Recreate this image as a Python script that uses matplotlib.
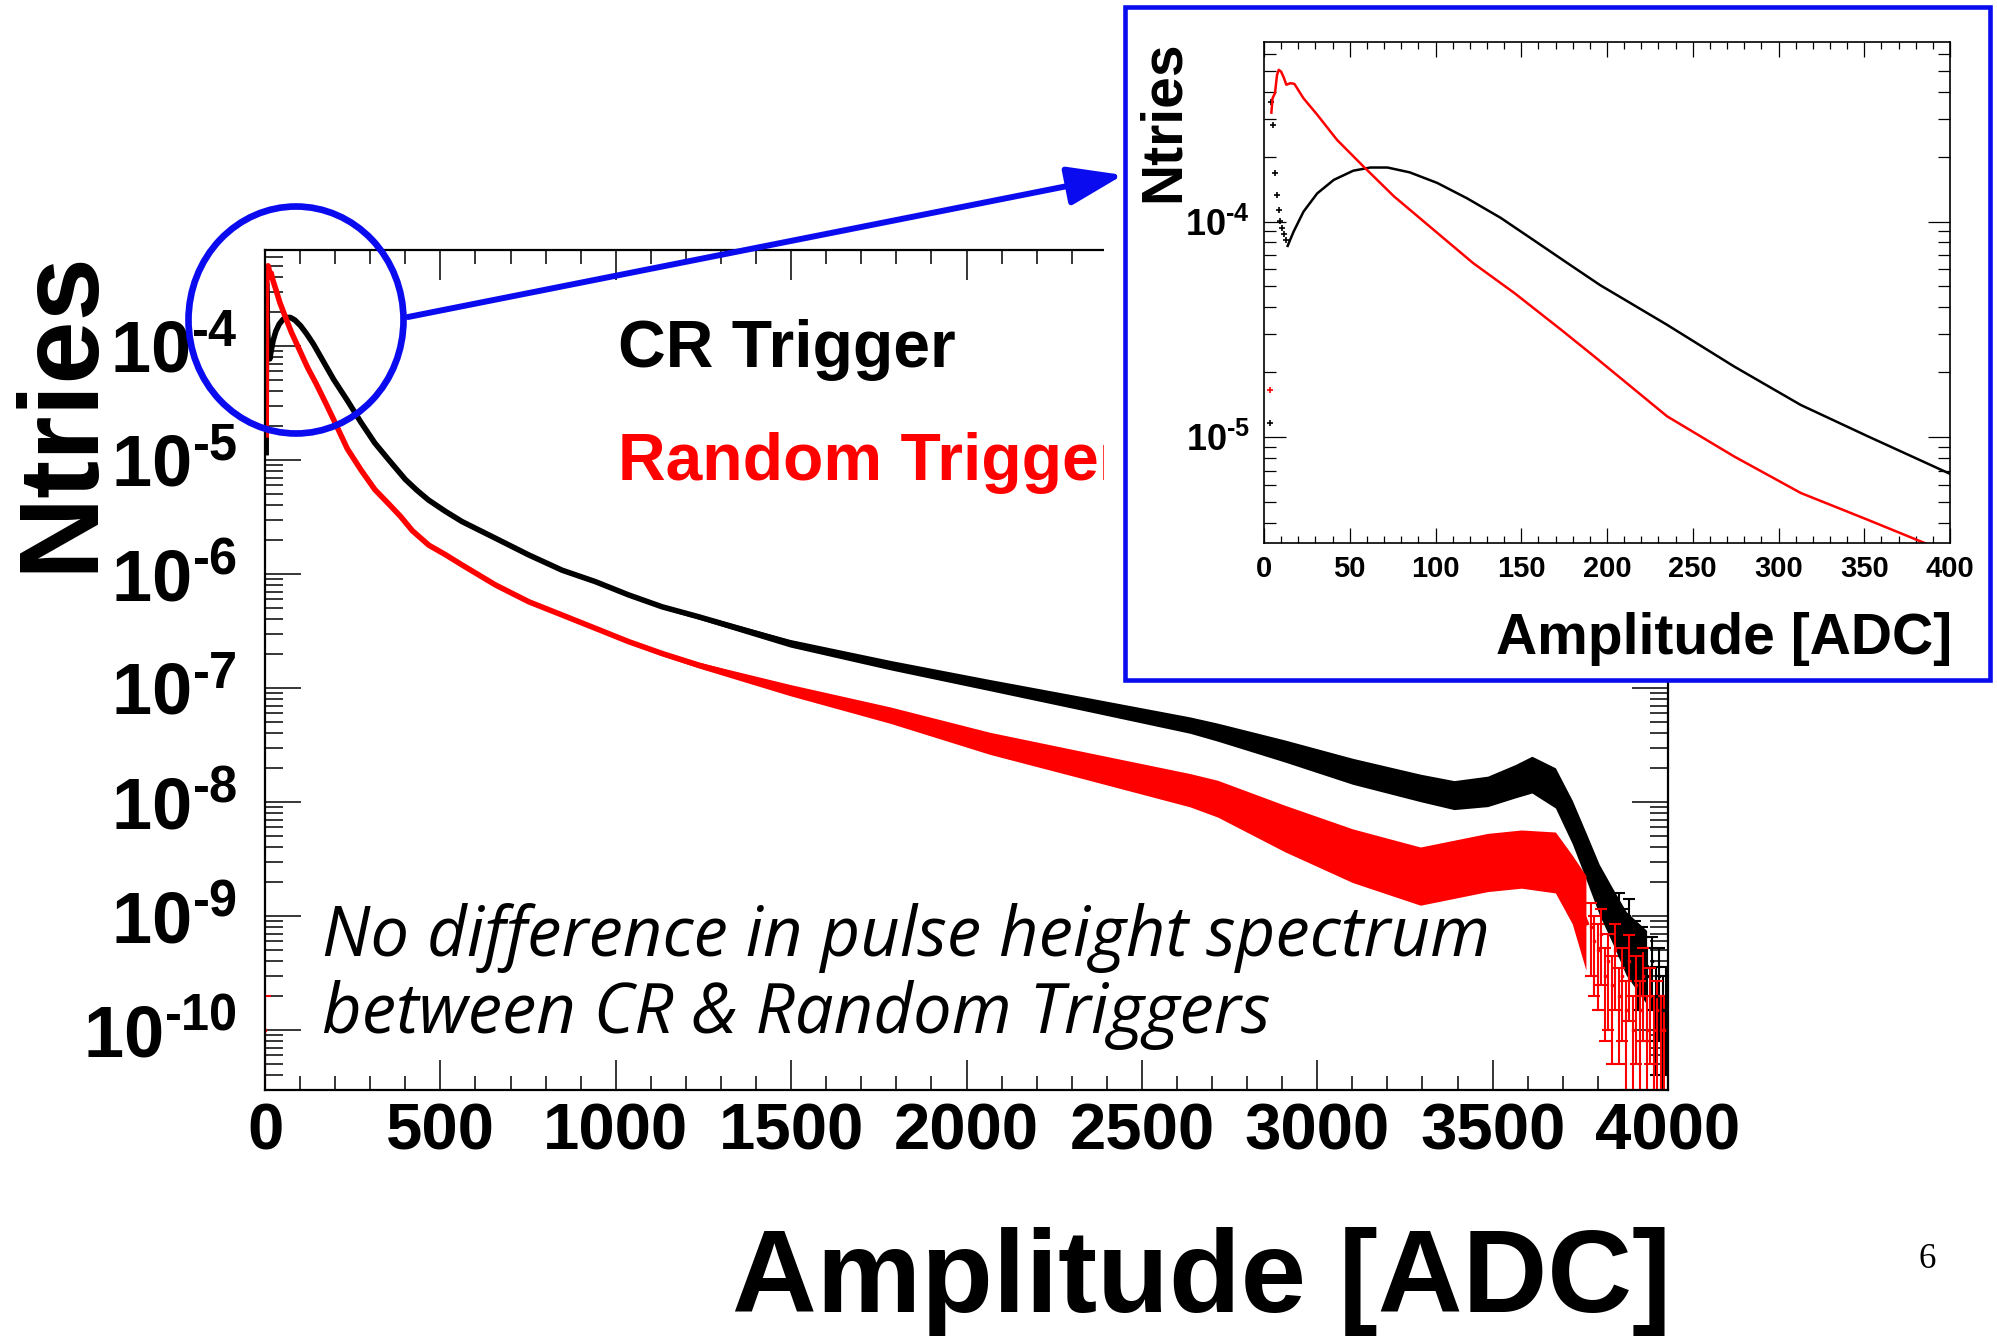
import numpy as np
import matplotlib
matplotlib.use("Agg")
import matplotlib.pyplot as plt
from matplotlib import patches
from matplotlib.ticker import LogLocator, NullFormatter, FuncFormatter, MultipleLocator

# ---------------- data ----------------
cr_x = [3.3, 4.3, 5.3, 6.6, 7.6, 8.6, 9.5, 10.7, 11.9, 12.6, 13.8, 15.4, 17.3, 23, 31,
        40.7, 52, 62, 72, 85, 101, 118.5, 138, 157, 177, 196, 207, 235, 274, 313, 352,
        400, 433, 466, 514, 562, 657, 752, 847, 942, 1037, 1132, 1236, 1497, 1782, 2067,
        2352, 2637, 2716, 2908, 3101, 3294, 3390, 3486, 3564, 3612, 3679, 3727, 3766,
        3804, 3843, 3881, 3939]
cr_y = [1.16e-5, 3.60e-4, 2.81e-4, 1.67e-4, 1.33e-4, 1.13e-4, 1.01e-4, 9.31e-5, 8.77e-5,
        8.17e-5, 7.71e-5, 8.28e-5, 8.99e-5, 1.11e-4, 1.35e-4, 1.56e-4, 1.72e-4, 1.78e-4,
        1.78e-4, 1.69e-4, 1.51e-4, 1.28e-4, 1.04e-4, 8.22e-5, 6.41e-5, 5.07e-5, 4.50e-5,
        3.32e-5, 2.13e-5, 1.41e-5, 1.01e-5, 6.76e-6, 5.43e-6, 4.46e-6, 3.55e-6, 2.88e-6,
        2.06e-6, 1.47e-6, 1.08e-6, 8.57e-7, 6.55e-7, 5.16e-7, 4.22e-7, 2.47e-7, 1.59e-7,
        1.06e-7, 7.10e-8, 4.73e-8, 4.10e-8, 2.80e-8, 1.86e-8, 1.33e-8, 1.15e-8, 1.24e-8,
        1.52e-8, 1.74e-8, 1.33e-8, 6.68e-9, 3.38e-9, 1.71e-9, 9.91e-10, 5.74e-10, 3.56e-10]
cr_spread = [1.0] * 40 + [1.03, 1.04, 1.05, 1.08, 1.10, 1.12, 1.15, 1.18, 1.20, 1.25,
                          1.30, 1.32, 1.34, 1.36, 1.40, 1.45, 1.50, 1.55, 1.60, 1.66,
                          1.75, 1.90, 2.10]

rnd_x = [3.3, 4.3, 5.0, 6.4, 7.6, 8.6, 10, 11.5, 13, 15.4, 17.7, 23, 31, 42.6, 58, 75.7,
         99, 122, 146, 173, 192.5, 235, 274, 313, 352, 386, 420, 467, 514, 562, 657, 752,
         847, 942, 1037, 1132, 1236, 1497, 1782, 2067, 2352, 2637, 2716, 2908, 3101, 3294,
         3390, 3486, 3582, 3679, 3727, 3766]
rnd_y = [1.66e-5, 3.20e-4, 3.73e-4, 3.94e-4, 4.79e-4, 5.05e-4, 4.95e-4, 4.66e-4, 4.31e-4,
         4.38e-4, 4.35e-4, 3.73e-4, 3.13e-4, 2.39e-4, 1.80e-4, 1.31e-4, 9.14e-5, 6.41e-5,
         4.66e-5, 3.16e-5, 2.37e-5, 1.25e-5, 8.15e-6, 5.51e-6, 4.14e-6, 3.21e-6, 2.40e-6,
         1.79e-6, 1.48e-6, 1.20e-6, 8.02e-7, 5.71e-7, 4.37e-7, 3.34e-7, 2.55e-7, 2.01e-7,
         1.59e-7, 9.59e-8, 5.79e-8, 3.27e-8, 2.04e-8, 1.27e-8, 1.07e-8, 5.85e-9, 3.38e-9,
         2.24e-9, 2.57e-9, 2.95e-9, 3.16e-9, 2.95e-9, 1.71e-9, 8.71e-10]
rnd_spread = [1.0] * 33 + [1.03, 1.04, 1.05, 1.06, 1.12, 1.18, 1.25, 1.32, 1.40, 1.45,
                           1.60, 1.72, 1.80, 1.80, 1.80, 1.80, 1.85, 2.0, 2.6]

cr_tail_x = [3860, 3875, 3890, 3905, 3915, 3925, 3940, 3955, 3965, 3975, 3985, 3995]
cr_tail_y = [1.2e-9, 8e-10, 1.0e-9, 6e-10, 4e-10, 5e-10, 3e-10, 4e-10, 2e-10, 3e-10,
             1.5e-10, 2e-10]
cr_tail_err = [4e-10, 3.5e-10, 4e-10, 3e-10, 2.5e-10, 3e-10, 2.2e-10, 2.5e-10, 1.6e-10,
               2.2e-10, 1.5e-10, 1.6e-10]

rnd_tail_x = [1, 3780, 3790, 3800, 3810, 3820, 3830, 3840, 3850, 3860, 3870, 3880, 3890,
              3900, 3910, 3920, 3930, 3940, 3950, 3960, 3970, 3980, 3990, 4000]
rnd_tail_y = [1e-10, 8e-10, 6e-10, 5e-10, 7e-10, 3e-10, 4e-10, 2.5e-10, 5e-10, 2e-10,
              3e-10, 1.5e-10, 4e-10, 1e-10, 2.5e-10, 1.5e-10, 3e-10, 1e-10, 2e-10, 1e-10,
              1.5e-10, 1e-10, 1e-10, 1e-10]
rnd_tail_err = [1e-10, 5e-10, 4e-10, 3.5e-10, 4.5e-10, 2.2e-10, 3e-10, 2e-10, 3.5e-10,
                1.5e-10, 2.2e-10, 1.2e-10, 2.8e-10, 1e-10, 2e-10, 1.2e-10, 2.2e-10, 1e-10,
                1.5e-10, 1e-10, 1.2e-10, 1e-10, 1e-10, 1e-10]

main_xticks = [0, 500, 1000, 1500, 2000, 2500, 3000, 3500, 4000]
main_xticklabels = ["0", "500", "1000", "1500", "2000", "2500", "3000", "3500", "4000"]
inset_xticks = [0, 50, 100, 150, 200, 250, 300, 350, 400]
inset_xticklabels = ["0", "50", "100", "150", "200", "250", "300", "350", "400"]

# ---------------- style ----------------
plt.rcParams["font.family"] = ["Liberation Sans", "DejaVu Sans"]
plt.rcParams["font.weight"] = "bold"
plt.rcParams["mathtext.fontset"] = "custom"
plt.rcParams["mathtext.rm"] = "Liberation Sans:bold"
plt.rcParams["mathtext.bf"] = "Liberation Sans:bold"
plt.rcParams["mathtext.it"] = "Liberation Sans:bold"
plt.rcParams["mathtext.default"] = "rm"

W, H = 1997, 1338
BLUE = "#0b0bef"
RED = "#ff0000"


def fx(px):
    return px / W


def fy(py):
    return 1 - py / H


def pow_fmt(v, pos):
    e = int(round(np.log10(v)))
    if e < 0:
        return r"$10^{\text{-}%d}$" % (-e)
    return r"$10^{%d}$" % e


fig = plt.figure(figsize=(W / 100, H / 100), dpi=100)
fig.patch.set_facecolor("white")

# ---------------- main axes ----------------
ax = fig.add_axes([fx(265), fy(1090), (1668 - 265) / W, (1090 - 250) / H])
ax.set_yscale("log")
ax.set_xlim(0, 4000)
ax.set_ylim(2.98e-11, 6.95e-4)

cx, cy, cs = np.array(cr_x), np.array(cr_y), np.array(cr_spread)
rx, ry, rs = np.array(rnd_x), np.array(rnd_y), np.array(rnd_spread)

ax.fill_between(cx, cy / cs, cy * cs, color="black", lw=0)
ax.plot(cx, cy, color="black", lw=4)
ax.errorbar(cr_tail_x, cr_tail_y, yerr=cr_tail_err, fmt="s", ms=2, color="black",
            elinewidth=1.5, capsize=4, capthick=1.5)
ax.fill_between(rx, ry / rs, ry * rs, color=RED, lw=0)
ax.plot(rx, ry, color=RED, lw=4)
ax.errorbar(rnd_tail_x, rnd_tail_y, yerr=rnd_tail_err, fmt="s", ms=2, color=RED,
            elinewidth=1.5, capsize=4, capthick=1.5)

ax.set_xticks(main_xticks)
ax.set_xticklabels(main_xticklabels)
ax.xaxis.set_minor_locator(MultipleLocator(100))
ax.yaxis.set_major_locator(LogLocator(base=10, numticks=30))
ax.yaxis.set_minor_locator(LogLocator(base=10, subs=np.arange(2, 10), numticks=30))
ax.yaxis.set_minor_formatter(NullFormatter())
ax.yaxis.set_major_formatter(FuncFormatter(pow_fmt))
ax.tick_params(which="both", direction="in", top=True, right=True, width=1.1)
ax.tick_params(axis="x", which="major", length=21.6, labelsize=47, pad=9)
ax.tick_params(axis="x", which="minor", length=10)
ax.tick_params(axis="y", which="major", length=26, labelsize=52, pad=20)
ax.tick_params(axis="y", which="minor", length=13)
for sp in ax.spines.values():
    sp.set_linewidth(1.6)

fig.text(fx(91), fy(411), "Ntries", rotation=90, rotation_mode="anchor",
         ha="center", va="baseline", size=82)
fig.text(fx(1671), fy(1312), "Amplitude [ADC]", ha="right", va="baseline", size=84.5)
fig.text(fx(618), fy(367), "CR Trigger", ha="left", va="baseline", size=47.5,
         color="black")
fig.text(fx(618), fy(480), "Random Trigger", ha="left", va="baseline", size=47.5,
         color=RED, zorder=0.5)
fig.text(fx(322), fy(956), "No difference in pulse height spectrum", ha="left",
         va="baseline", size=49.5, family="Open Sans", style="italic", weight="normal")
fig.text(fx(322), fy(1033), "between CR & Random Triggers", ha="left",
         va="baseline", size=49.5, family="Open Sans", style="italic", weight="normal")
fig.text(fx(1927.5), fy(1259), "6", ha="center", va="center", size=25,
         family="Liberation Serif", weight="normal")

# ---------------- inset panel ----------------
cover = patches.Rectangle((fx(1104), fy(681)), 1 - fx(1104), 681 / H,
                          transform=fig.transFigure, facecolor="white",
                          edgecolor="none", zorder=1)
fig.add_artist(cover)
frame = patches.Rectangle((fx(1125), fy(680)), (1990 - 1125) / W, (680 - 6.6) / H,
                          transform=fig.transFigure, fill=False, edgecolor=BLUE,
                          lw=3.3, zorder=1.5)
fig.add_artist(frame)

circle = patches.Ellipse((fx(296), fy(320)), 215 / W, 227 / H, transform=fig.transFigure,
                         fill=False, edgecolor=BLUE, lw=4.8, zorder=2)
fig.add_artist(circle)
arrow = patches.FancyArrowPatch((fx(408), fy(317)), (fx(1123), fy(175)),
                                transform=fig.transFigure,
                                arrowstyle="-|>,head_length=34,head_width=12",
                                mutation_scale=1, shrinkA=0, shrinkB=0,
                                color=BLUE, lw=4.3, zorder=2)
fig.add_artist(arrow)

axi = fig.add_axes([fx(1264), fy(543), (1950 - 1264) / W, (543 - 42) / H], zorder=5)
axi.set_yscale("log")
axi.set_xlim(0, 400)
axi.set_ylim(3.23e-6, 6.8e-4)
cm = cx >= 13.8
rm = rx >= 4.3
axi.plot(cx[cm], cy[cm], color="black", lw=1.8)
axi.plot(cx[~cm], cy[~cm], ls="none", marker="+", ms=4, mew=1.2, color="black")
axi.plot(rx[rm], ry[rm], color=RED, lw=1.8)
axi.plot(rx[~rm], ry[~rm], ls="none", marker="+", ms=4, mew=1.2, color=RED)

axi.set_xticks(inset_xticks)
axi.set_xticklabels(inset_xticklabels)
axi.xaxis.set_minor_locator(MultipleLocator(10))
axi.yaxis.set_major_locator(LogLocator(base=10, numticks=30))
axi.yaxis.set_minor_locator(LogLocator(base=10, subs=np.arange(2, 10), numticks=30))
axi.yaxis.set_minor_formatter(NullFormatter())
axi.yaxis.set_major_formatter(FuncFormatter(pow_fmt))
axi.tick_params(which="both", direction="in", top=True, right=True, width=0.9)
axi.tick_params(axis="x", which="major", length=11, labelsize=21, pad=8.6)
axi.tick_params(axis="x", which="minor", length=5)
axi.tick_params(axis="y", which="major", length=15.6, labelsize=26, pad=10)
axi.tick_params(axis="y", which="minor", length=8.4)
for sp in axi.spines.values():
    sp.set_linewidth(1.2)

fig.text(fx(1179), fy(121), "Ntries", rotation=90, rotation_mode="anchor",
         ha="center", va="baseline", size=41, zorder=6)
fig.text(fx(1952), fy(654), "Amplitude [ADC]", ha="right", va="baseline", size=41,
         zorder=6)

fig.savefig("out.png", dpi=100)
